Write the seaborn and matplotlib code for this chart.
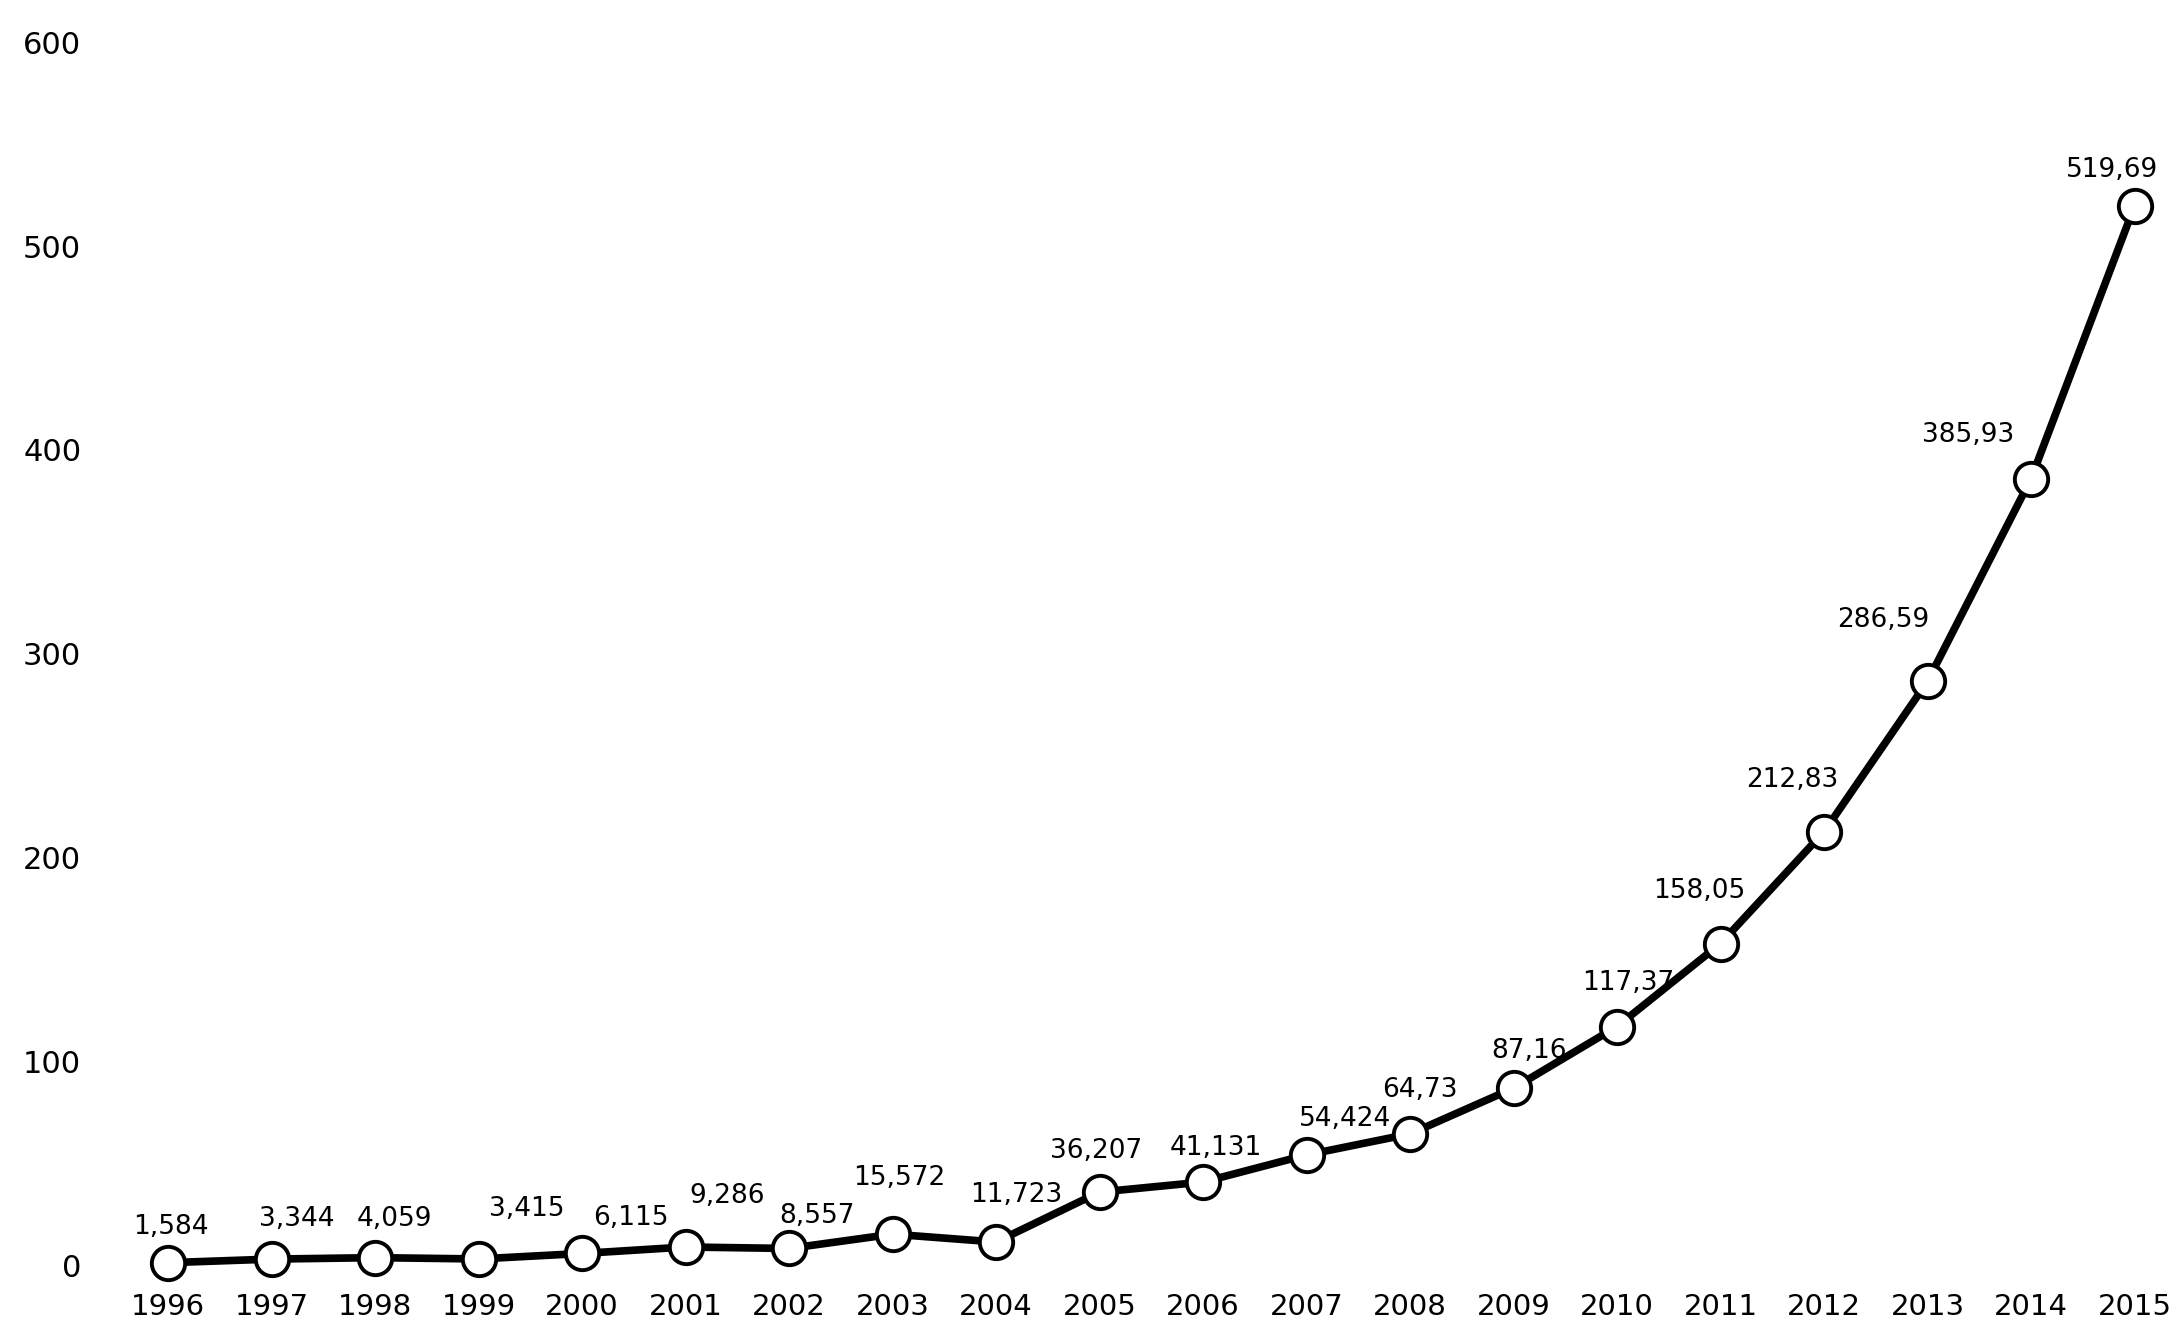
import matplotlib
matplotlib.use("Agg")
import matplotlib.pyplot as plt
import seaborn as sns
import pandas as pd

years = list(range(1996, 2016))
values = [1.584, 3.344, 4.059, 3.415, 6.115, 9.286, 8.557, 15.572, 11.723, 36.207,
          41.131, 54.424, 64.73, 87.16, 117.37, 158.05, 212.83, 286.59, 385.93, 519.69]
value_labels = ["1,584", "3,344", "4,059", "3,415", "6,115", "9,286", "8,557", "15,572",
                "11,723", "36,207", "41,131", "54,424", "64,73", "87,16", "117,37",
                "158,05", "212,83", "286,59", "385,93", "519,69"]
y_ticks = [0, 100, 200, 300, 400, 500, 600]

# label offsets (pixels) relative to each marker
label_dx = [3, 25, 19, 48, 49, 42, 28, 7, 20, -3, 13, 39, 10, 15, 11, -21, -32, -44, -63, -23]
label_dy = [36, 40, 39, 50, 35, 51, 32, 56, 47, 41, 34, 36, 44, 37, 44, 53, 52, 61, 44, 36]

df = pd.DataFrame({"year": years, "value": values})

sns.set_theme(style="white")
plt.rcParams["font.family"] = ["DejaVu Sans"]

fig = plt.figure(figsize=(21.77, 13.17), dpi=100)
ax = fig.add_axes([109 / 2177, 27 / 1317, 1 - 109 / 2177, 1 - 27 / 1317])

sns.lineplot(data=df, x="year", y="value", ax=ax, color="black", linewidth=5.5,
             marker="o", markersize=24, markerfacecolor="white",
             markeredgecolor="black", markeredgewidth=2.8, zorder=3)

for x, y, lab, dx, dy in zip(years, values, value_labels, label_dx, label_dy):
    ax.annotate(lab, (x, y), xytext=(dx, dy), textcoords="offset pixels",
                ha="center", va="center", fontsize=19, color="black",
                fontweight="medium", zorder=4)

ax.set_xlim(1995.43, 2015.41)
ax.set_ylim(-11.8, 620.6)
ax.set_xticks(years)
ax.set_xticklabels([str(y) for y in years], fontsize=21, color="black")
ax.set_yticks(y_ticks)
ax.set_yticklabels([str(t) for t in y_ticks], fontsize=22, color="black")
ax.tick_params(axis="x", length=0, pad=2)
ax.tick_params(axis="y", length=0, pad=20)
for s in ax.spines.values():
    s.set_visible(False)
ax.set_xlabel("")
ax.set_ylabel("")
ax.grid(False)
ax.patch.set_facecolor("white")
fig.patch.set_facecolor("white")

fig.savefig("out.png", dpi=100, facecolor="white")
